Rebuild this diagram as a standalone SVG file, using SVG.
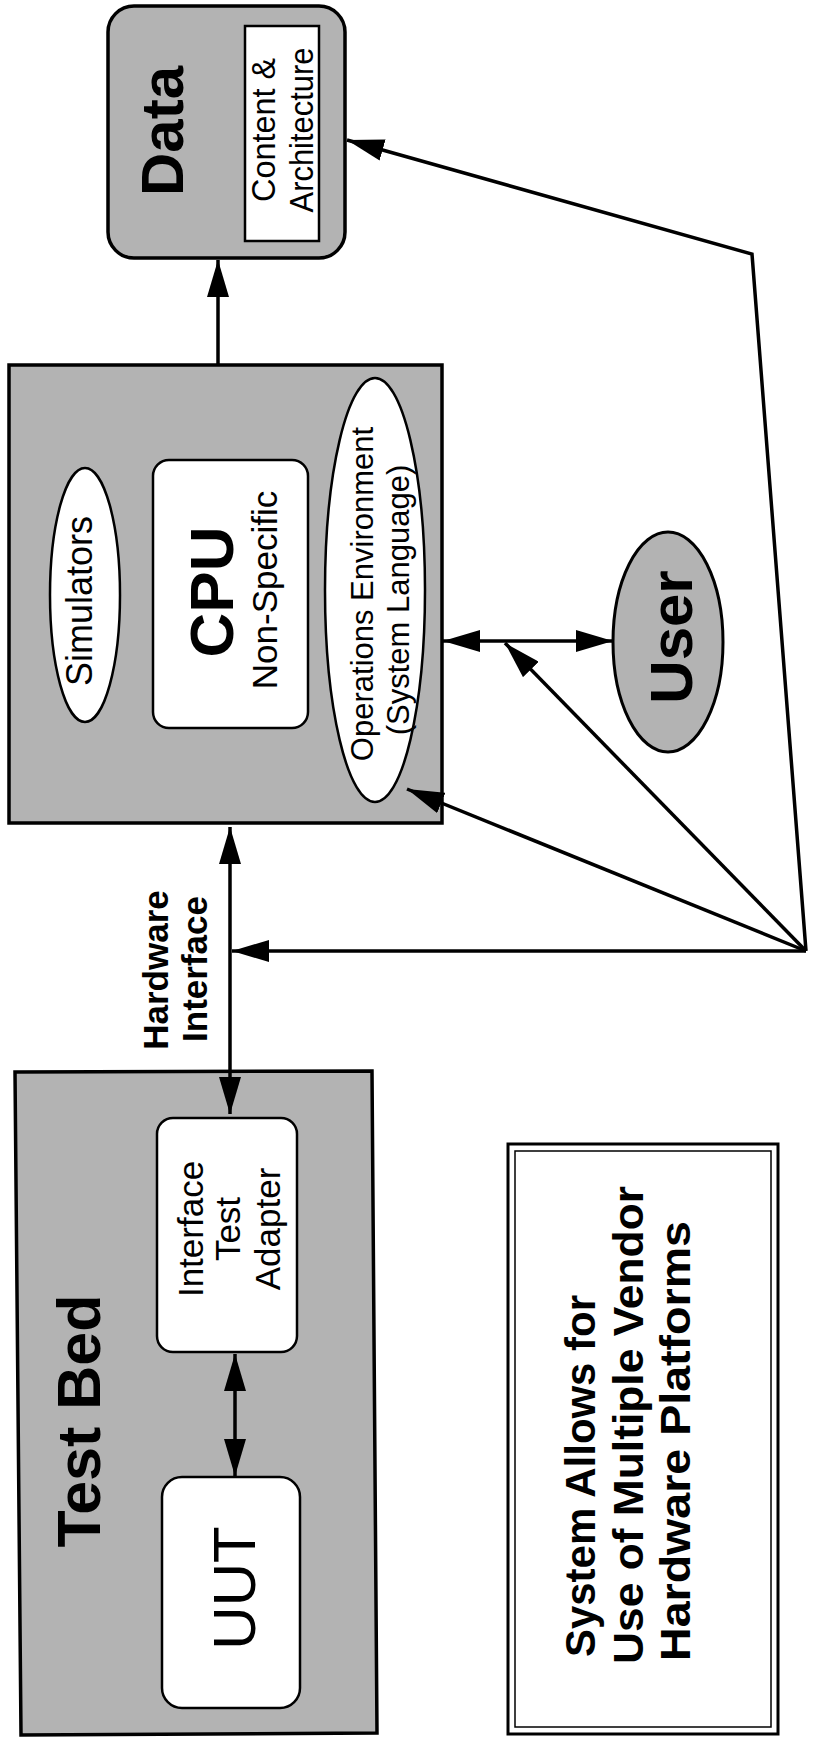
<svg xmlns="http://www.w3.org/2000/svg" width="815" height="1740" viewBox="0 0 815 1740">
<style>
.shade{fill:#b3b3b3;stroke:#000;stroke-width:3.5}
.white{fill:#fff;stroke:#000;stroke-width:2.5}
.t{font-family:"Liberation Sans",Arial,Helvetica,sans-serif;fill:#000;text-anchor:middle}
.s{text-anchor:start}
.b{font-weight:bold}
.con{fill:none;stroke:#000;stroke-width:3.5;stroke-linejoin:miter}
</style>
<defs>
<marker id="ah" markerUnits="userSpaceOnUse" markerWidth="37" markerHeight="22" refX="37" refY="11" orient="auto-start-reverse">
<path d="M0,0 L37,11 L0,22 z" fill="#000"/>
</marker>
</defs>
<rect width="815" height="1740" fill="#fff"/>

<g id="data">
<rect class="shade" x="108" y="6" width="237" height="252" rx="26"/>
<rect class="white" x="245" y="26" width="74" height="215"/>
<text class="t b" font-size="60" transform="translate(183,131) rotate(-90)">Data</text>
<text class="t" font-size="33" textLength="144" lengthAdjust="spacingAndGlyphs" transform="translate(275,130) rotate(-90)">Content &amp;</text>
<text class="t" font-size="33" textLength="165" lengthAdjust="spacingAndGlyphs" transform="translate(313,130) rotate(-90)">Architecture</text>
</g>

<g id="cpu">
<rect class="shade" x="9" y="365" width="433" height="458"/>
<g id="simulators">
<ellipse class="white" cx="85" cy="595" rx="35" ry="127"/>
<text class="t" font-size="36" transform="translate(92,601) rotate(-90)">Simulators</text>
</g>
<g id="cpu-core">
<rect class="white" x="153" y="460" width="155" height="268" rx="16"/>
<text class="t b" font-size="62" transform="translate(233,592) rotate(-90)">CPU</text>
<text class="t" font-size="35" transform="translate(277,590) rotate(-90)">Non-Specific</text>
</g>
<g id="ops-env">
<ellipse class="white" cx="375" cy="590" rx="50" ry="212"/>
<text class="t" font-size="31" transform="translate(373,594) rotate(-90)">Operations Environment</text>
<text class="t" font-size="31" transform="translate(409,600) rotate(-90)">(System Language)</text>
</g>
</g>

<g id="user">
<ellipse class="shade" cx="668" cy="642" rx="55" ry="110" style="stroke-width:3"/>
<text class="t b" font-size="60" transform="translate(692,637) rotate(-90)">User</text>
</g>

<g id="testbed">
<polygon class="shade" points="15,1072 372,1071 377,1733 21,1735"/>
<text class="t b" font-size="61" transform="translate(100,1421) rotate(-90)">Test Bed</text>
<g id="ita">
<rect class="white" x="157" y="1118" width="140" height="234" rx="16"/>
<text class="t" font-size="35" transform="translate(203,1229) rotate(-90)">Interface</text>
<text class="t" font-size="35" transform="translate(240,1229) rotate(-90)">Test</text>
<text class="t" font-size="35" transform="translate(280,1229) rotate(-90)">Adapter</text>
</g>
<g id="uut">
<rect class="white" x="162" y="1477" width="138" height="231" rx="20"/>
<text class="t" font-size="60" transform="translate(255,1588) rotate(-90)">UUT</text>
</g>
</g>

<g id="hw-label">
<text class="t b" font-size="35" transform="translate(168,970) rotate(-90)">Hardware</text>
<text class="t b" font-size="35" transform="translate(207,969) rotate(-90)">Interface</text>
</g>

<g id="note">
<rect x="508" y="1144" width="270" height="590" fill="none" stroke="#000" stroke-width="3"/>
<rect x="515" y="1151" width="256" height="576" fill="none" stroke="#000" stroke-width="1.5"/>
<text class="t s b" font-size="43" textLength="362" lengthAdjust="spacingAndGlyphs" transform="translate(595,1657) rotate(-90)">System Allows for</text>
<text class="t s b" font-size="43" textLength="478" lengthAdjust="spacingAndGlyphs" transform="translate(643,1664) rotate(-90)">Use of Multiple Vendor</text>
<text class="t s b" font-size="43" textLength="440" lengthAdjust="spacingAndGlyphs" transform="translate(690,1661) rotate(-90)">Hardware Platforms</text>
</g>

<g id="connectors">
<line class="con" x1="218" y1="365" x2="218" y2="260" marker-end="url(#ah)"/>
<line class="con" x1="230" y1="827" x2="230" y2="1114" marker-start="url(#ah)" marker-end="url(#ah)"/>
<line class="con" x1="235" y1="1354" x2="235" y2="1476" marker-start="url(#ah)" marker-end="url(#ah)"/>
<line class="con" x1="443" y1="641" x2="613" y2="641" marker-start="url(#ah)" marker-end="url(#ah)"/>
<line class="con" x1="806" y1="951" x2="232" y2="951" marker-end="url(#ah)"/>
<line class="con" x1="806" y1="951" x2="505" y2="643" marker-end="url(#ah)"/>
<line class="con" x1="806" y1="951" x2="407" y2="789" marker-end="url(#ah)"/>
<polyline class="con" points="806,951 752,254 347,140" marker-end="url(#ah)"/>
</g>
</svg>
